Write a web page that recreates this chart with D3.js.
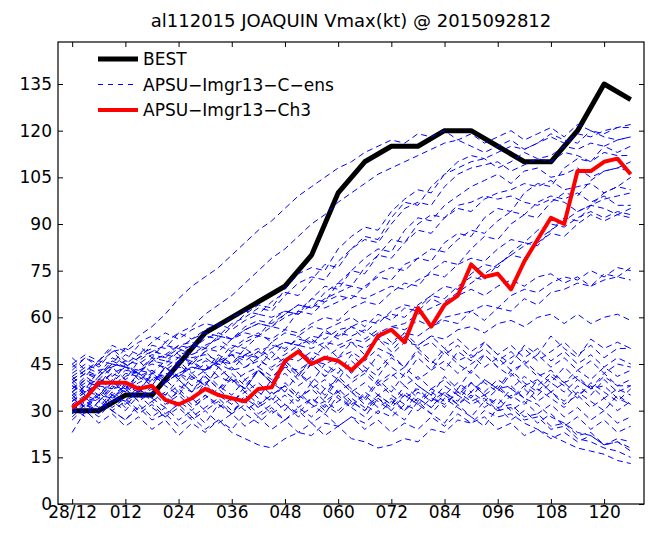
<!DOCTYPE html>
<html>
<head>
<meta charset="utf-8">
<title>al112015 JOAQUIN Vmax</title>
<style>
  body { margin: 0; background: #fff; }
  text { font-family: "DejaVu Sans", sans-serif; fill: #000; }
</style>
</head>
<body>
<script src="https://d3js.org/d3.v7.min.js"></script>
<script>

var width = 652, height = 539;
var margin = {left: 58, right: 8, top: 42, bottom: 35};

// forecast hours, every 3 h
var hours = [0,3,6,9,12,15,18,21,24,27,30,33,36,39,42,45,48,51,54,57,60,
             63,66,69,72,75,78,81,84,87,90,93,96,99,102,105,108,111,114,117,120,123,126];

// best track, every 6 h
var bestHours = [0,6,12,18,24,30,36,42,48,54,60,66,72,78,84,90,96,102,108,114,120,126];
var bestVmax  = [30,30,35,35,45,55,60,65,70,80,100,110,115,115,120,120,115,110,110,120,135,130];

// APSU-Imgr13-Ch3
var ch3Vmax = [31,34,39,39,39,37,38,33.5,32,34,37,35,34,33,37,37.5,46,49,45,47,46,43,47,54,56,52,
               63,57,64,67,77,73,74,69,78,85,92,90,107,107,110,111,106];

// APSU-Imgr13-C-ens members, grouped by how they behave
var ensFast = [
  [40,43,46,45,50,54,57,61,66,70,73,76,80,84,88,91,95,99,102,105,108,110,113,115,117,116,119,118,120,117,119,116,118,120,117,119,121,118,122,120,119,121,121],
  [38,36,41,45,44,47,51,50,55,57,61,64,67,71,75,79,82,86,90,93,97,100,103,106,108,110,112,114,116,117,115,113,115,117,114,116,119,117,116,120,118,117,118],
  [35,38,40,39,43,42,46,48,47,51,54,53,57,61,64,63,69,74,76,75,82,86,89,88,94,98,101,100,106,110,112,111,108,110,113,111,112,115,114,116,115,113,115],
  [42,45,43,44,48,46,49,51,50,53,55,54,58,60,63,62,67,71,73,72,78,82,85,84,90,95,97,96,102,106,108,109,110,107,109,111,110,113,112,110,113,112,112],
  [33,36,38,37,41,43,42,46,45,48,50,49,53,55,54,59,62,61,66,70,69,75,79,82,81,88,92,91,96,99,102,104,106,103,107,108,105,106,108,105,107,108,107],
  [44,47,45,49,50,48,52,55,53,56,58,57,60,62,61,65,68,67,72,77,76,82,86,85,92,97,96,102,106,108,110,111,113,115,114,116,118,116,119,118,120,121,122],
  [37,40,39,42,44,43,47,46,49,51,50,54,53,56,58,57,61,64,63,68,71,70,76,80,79,84,88,87,92,95,94,98,100,101,103,102,104,101,102,103,100,102,101],
  [39,42,41,45,44,42,46,45,49,47,48,46,51,50,54,57,56,62,66,65,71,75,74,80,85,84,90,93,92,96,97,99,98,99,97,96,98,97,94,96,95,93,95]
];
var ensMid = [
  [36,39,38,42,40,43,45,44,47,46,49,51,49,52,54,53,56,55,58,60,59,63,65,64,68,71,70,75,78,77,82,86,85,90,93,92,97,100,99,104,107,108,110],
  [31,34,33,37,38,36,40,42,41,44,43,46,48,46,49,51,50,53,52,55,54,57,59,58,62,64,63,67,70,69,74,77,76,81,84,83,88,92,91,96,100,102,105],
  [40,43,41,46,44,47,49,48,51,50,53,55,53,57,59,58,61,64,63,66,68,70,69,74,76,75,79,82,81,85,88,87,91,94,93,97,99,98,100,97,99,96,96],
  [34,31,35,34,38,37,41,39,42,44,43,46,45,48,47,50,52,51,54,53,56,57,55,59,61,60,64,67,66,70,73,72,77,80,79,84,87,86,90,93,91,93,92],
  [39,42,40,44,46,45,48,47,51,52,50,54,53,56,58,57,60,62,61,65,67,66,70,73,72,77,79,78,84,87,86,92,95,94,100,103,102,108,111,110,115,117,118],
  [33,36,35,39,37,40,42,41,44,43,46,45,48,47,49,46,48,51,50,52,51,53,52,55,57,58,61,63,65,68,71,74,77,80,83,85,88,91,94,96,98,99,100]
];
var ensLate = [
  [32,35,33,38,36,39,41,39,42,40,43,45,43,44,46,44,47,46,49,47,50,52,50,53,51,55,54,57,59,58,62,64,63,67,69,68,71,73,72,75,73,76,75],
  [41,44,42,47,45,48,50,47,50,48,51,53,50,53,55,52,55,54,57,56,58,60,57,61,59,63,62,66,64,67,69,67,70,72,70,73,74,71,73,70,72,73,72],
  [29,32,30,35,33,36,38,35,38,36,39,41,39,42,44,41,44,43,46,45,47,49,46,50,48,52,51,54,53,56,57,55,58,59,57,60,61,58,61,58,60,61,59],
  [45,48,46,51,49,52,54,52,55,53,56,58,56,59,61,60,62,61,64,63,65,67,66,68,70,69,72,74,73,77,79,78,82,85,84,88,90,89,92,94,92,94,93],
  [38,35,40,37,42,41,43,40,46,45,47,44,49,48,50,47,52,51,53,50,55,54,56,53,57,56,59,57,60,61,62,59,63,62,66,64,68,69,71,70,74,73,76],
  [36,40,37,33,39,36,42,38,35,41,38,44,40,37,43,40,46,42,39,45,42,48,44,41,47,44,50,46,43,49,46,52,48,45,51,48,54,50,47,53,50,52,50]
];
var ensWeak = [
  [30,34,31,36,33,38,34,31,37,33,39,35,32,38,34,40,36,33,39,35,41,37,34,40,36,42,38,35,41,37,43,39,36,42,38,40,36,39,35,38,34,37,35],
  [43,47,44,49,45,42,47,43,46,42,45,41,44,40,43,39,42,38,41,37,40,36,39,35,38,34,37,33,36,32,35,31,34,30,33,29,32,28,31,27,30,26,28],
  [36,32,35,31,34,30,33,29,32,28,31,34,30,33,29,32,35,31,34,30,33,36,32,29,33,30,34,31,35,32,36,33,37,34,38,35,39,36,40,37,41,38,40],
  [47,43,45,41,44,40,43,39,42,38,41,37,40,36,39,35,38,34,37,33,36,32,35,31,34,30,36,33,38,35,39,36,40,37,41,38,42,39,43,40,44,41,43],
  [33,37,34,39,36,42,38,44,40,46,42,47,43,48,44,49,45,50,46,51,47,52,48,53,49,54,50,52,48,51,47,50,46,49,45,48,44,47,43,46,42,45,44],
  [39,35,38,34,37,33,36,32,35,31,34,37,33,36,32,35,38,34,37,40,36,39,42,38,41,44,40,43,46,42,45,48,44,47,50,46,49,52,48,51,47,50,50],
  [27,31,28,33,30,35,31,28,33,30,35,32,29,34,31,36,32,29,34,31,37,33,30,35,32,38,34,31,36,33,39,35,32,37,34,40,36,33,38,35,40,36,38],
  [45,41,46,50,46,51,47,52,48,45,49,45,48,44,47,43,46,42,45,41,44,40,43,39,42,38,41,37,40,36,39,35,38,34,37,33,36,32,35,31,34,30,33],
  [34,38,35,40,37,42,39,44,41,46,43,48,45,50,47,52,49,54,51,56,53,57,53,56,52,55,51,54,50,53,49,52,48,51,47,50,46,49,45,48,44,47,45],
  [31,28,33,30,27,32,28,31,27,30,26,32,29,35,31,34,30,36,32,29,35,31,28,34,30,27,33,29,26,32,28,25,31,27,30,26,29,25,28,24,27,23,25],
  [37,41,38,44,40,46,42,39,45,41,38,44,40,37,43,39,45,41,47,43,40,46,42,48,44,41,47,43,49,45,42,48,44,41,46,42,39,44,40,37,42,38,38],
  [35,31,36,32,37,33,38,35,40,36,41,37,42,38,43,39,44,40,45,41,46,42,47,43,48,44,49,45,50,46,48,44,47,43,45,41,43,39,41,37,38,34,32],
  [41,37,43,39,45,41,38,44,40,36,42,38,35,40,36,33,39,35,32,37,34,31,36,33,30,35,32,29,34,31,28,33,30,35,32,37,34,31,36,33,30,35,32],
  [28,32,29,35,31,37,34,40,36,42,38,35,41,37,43,39,36,42,38,34,40,36,33,39,35,32,38,35,31,37,34,40,37,43,39,36,41,38,34,39,36,33,37]
];
var ensDecay = [
  [23,30,26,29,25,28,24,27,22,26,23,27,24,29,26,30,27,31,28,32,29,33,30,34,31,35,32,36,33,35,32,34,30,31,27,28,24,25,21,20,18,17,15],
  [32,29,33,30,27,31,27,29,25,28,24,27,23,21,19,18,21,23,22,26,25,28,26,30,28,32,30,34,32,36,33,35,31,32,28,29,25,26,22,23,19,20,18],
  [35,31,34,30,33,29,32,28,31,27,30,26,29,25,28,24,27,23,26,22,25,21,20,18,19,21,20,24,23,27,26,30,28,29,26,24,22,20,18,17,16,14,13],
  [40,36,39,35,38,34,37,33,36,32,35,31,34,30,33,29,32,28,31,33,30,34,31,35,32,36,33,37,35,39,36,40,37,38,34,32,28,26,23,22,19,21,20],
  [29,33,30,35,32,37,33,36,32,34,30,33,29,32,28,31,27,30,26,29,25,28,24,27,23,26,24,28,25,29,26,28,24,26,22,24,21,23,20,22,19,20,17]
];

var xTicks = [0,12,24,36,48,60,72,84,96,108,120];
var xTickLabels = ["28/12","012","024","036","048","060","072","084","096","108","120"];
var yTicks = [0,15,30,45,60,75,90,105,120,135];
var legendLabels = ["BEST", "APSU\u2212Imgr13\u2212C\u2212ens", "APSU\u2212Imgr13\u2212Ch3"];

var members = ensFast.concat(ensMid, ensLate, ensWeak, ensDecay);

var svg = d3.select("body").append("svg")
    .attr("width", width)
    .attr("height", height);

var x = d3.scaleLinear().domain([-3.2, 129]).range([margin.left, width - margin.right]);
var y = d3.scaleLinear().domain([0, 148.5]).range([height - margin.bottom, margin.top]);

svg.append("text")
    .attr("x", (margin.left + width - margin.right) / 2)
    .attr("y", 27)
    .attr("text-anchor", "middle")
    .style("font-size", "18px")
    .text("al112015 JOAQUIN Vmax(kt) @ 2015092812");

var plot = svg.append("g");

var bestLine = d3.line()
    .x(function(d, i) { return x(bestHours[i]); })
    .y(function(d) { return y(d); });
var hourLine = d3.line()
    .x(function(d, i) { return x(hours[i]); })
    .y(function(d) { return y(d); });

plot.append("path")
    .attr("d", bestLine(bestVmax))
    .attr("fill", "none").attr("stroke", "#000")
    .attr("stroke-width", 5).attr("stroke-linejoin", "round");

plot.selectAll("path.ens")
    .data(members)
  .enter().append("path")
    .attr("class", "ens")
    .attr("d", hourLine)
    .attr("fill", "none").attr("stroke", "#0000ff")
    .attr("stroke-width", 1).attr("stroke-dasharray", "6,4");

plot.append("path")
    .attr("d", hourLine(ch3Vmax))
    .attr("fill", "none").attr("stroke", "#ff0000")
    .attr("stroke-width", 4).attr("stroke-linejoin", "round");

// axes, ticks pointing inward (matlab style)
svg.append("g")
    .attr("transform", "translate(0," + (height - margin.bottom) + ")")
    .call(d3.axisBottom(x).tickValues(xTicks).tickSize(-5).tickPadding(2)
          .tickFormat(function(d, i) { return xTickLabels[i]; }));
svg.append("g")
    .attr("transform", "translate(0," + margin.top + ")")
    .call(d3.axisTop(x).tickValues(xTicks).tickSize(-5).tickFormat(""));
svg.append("g")
    .attr("transform", "translate(" + margin.left + ",0)")
    .call(d3.axisLeft(y).tickValues(yTicks).tickSize(-5).tickPadding(6));
svg.append("g")
    .attr("transform", "translate(" + (width - margin.right) + ",0)")
    .call(d3.axisRight(y).tickValues(yTicks).tickSize(-5).tickFormat(""));

svg.selectAll(".domain").remove();
svg.selectAll(".tick line").attr("stroke", "#000");
svg.selectAll(".tick text").style("font-size", "17px").style("font-family", "DejaVu Sans");

svg.append("rect")
    .attr("x", margin.left).attr("y", margin.top)
    .attr("width", width - margin.left - margin.right)
    .attr("height", height - margin.top - margin.bottom)
    .attr("fill", "none").attr("stroke", "#000").attr("stroke-width", 1.2);

// legend
var legendStyle = [
  {stroke: "#000", width: 5, dash: null},
  {stroke: "#0000ff", width: 1, dash: "5,5"},
  {stroke: "#ff0000", width: 4, dash: null}
];
var legend = svg.append("g").selectAll("g")
    .data(legendLabels)
  .enter().append("g")
    .attr("transform", function(d, i) { return "translate(98," + (59 + i * 25.5) + ")"; });
legend.append("line")
    .attr("x1", 0).attr("x2", 40).attr("y1", 0).attr("y2", 0)
    .attr("stroke", function(d, i) { return legendStyle[i].stroke; })
    .attr("stroke-width", function(d, i) { return legendStyle[i].width; })
    .attr("stroke-dasharray", function(d, i) { return legendStyle[i].dash; });
legend.append("text")
    .attr("x", 45).attr("y", 6)
    .style("font-size", "17px")
    .text(function(d) { return d; });

</script>
</body>
</html>
